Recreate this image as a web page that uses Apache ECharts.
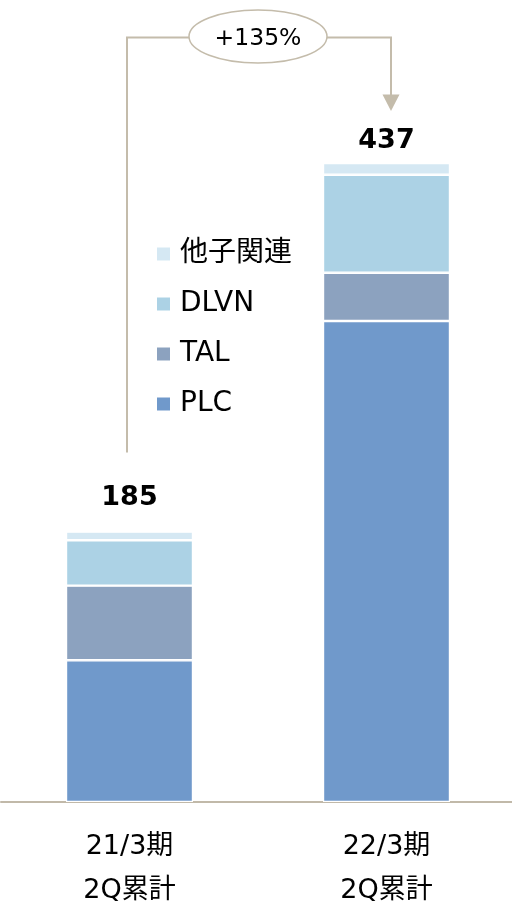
<!DOCTYPE html>
<html>
<head>
<meta charset="utf-8">
<script src="https://cdn.jsdelivr.net/npm/echarts@6/dist/echarts.min.js"></script>
<style>
html,body{margin:0;padding:0;background:#fff;overflow:hidden;}
#c{width:512px;height:904px;}
</style>
</head>
<body>
<div id="c"></div>
<script>
const categories = ['21/3期\n2Q累計', '22/3期\n2Q累計'];
const plc = [97, 329];
const tal = [51, 33];
const dlvn = [31, 67];
const others = [6, 8];
const totals = [185, 437];
const growthLabel = '+135%';
const legendOrder = ['他子関連', 'DLVN', 'TAL', 'PLC'];

const FONT = '"DejaVu Sans", "Noto Sans CJK JP", sans-serif';
const LINE = '#c4bcab';
const totalLabelGap = [20, 8.5];

const chart = echarts.init(document.getElementById('c'), null, {renderer: 'canvas', width: 512, height: 904});

function seg(name, data, color, extra) {
  return Object.assign({
    name: name,
    type: 'bar',
    stack: 'total',
    barWidth: 127,
    data: data,
    itemStyle: {color: color, borderColor: '#fff', borderWidth: 1.2},
    emphasis: {disabled: true},
    animation: false
  }, extra || {});
}

chart.setOption({
  animation: false,
  grid: {left: 1, right: -3, top: 71, bottom: 102, containLabel: false, outerBoundsMode: 'none'},
  legend: {
    orient: 'vertical',
    left: 157,
    top: 240,
    padding: 0,
    itemGap: 22,
    itemWidth: 13,
    itemHeight: 13,
    icon: 'rect',
    selectedMode: false,
    data: legendOrder,
    itemStyle: {borderWidth: 0},
    textStyle: {fontFamily: FONT, fontSize: 28, color: '#000', padding: [0, 0, 0, 5]}
  },
  xAxis: {
    type: 'category',
    data: categories,
    axisLine: {show: true, lineStyle: {color: '#c1b9a9', width: 2}},
    axisTick: {show: false},
    axisLabel: {fontFamily: FONT, fontSize: 27, lineHeight: 44, color: '#000', margin: 23}
  },
  yAxis: {
    type: 'value',
    min: 0,
    max: 500,
    show: false,
    splitLine: {show: false}
  },
  series: [
    seg('PLC', plc, '#7099cb'),
    seg('TAL', tal, '#8ca2bf'),
    seg('DLVN', dlvn, '#acd2e5'),
    seg('他子関連', others.map(function (v, i) {
      return {value: v, label: {distance: totalLabelGap[i]}};
    }), '#d5e8f3', {
      label: {
        show: true,
        position: 'top',
        fontFamily: FONT,
        fontSize: 27,
        fontWeight: 'bold',
        color: '#000',
        formatter: function (p) { return String(totals[p.dataIndex]); }
      }
    })
  ]
});

// Growth annotation connector, positioned from the chart's own scales
const p1 = chart.convertToPixel({gridIndex: 0}, [0, totals[0]]);
const p2 = chart.convertToPixel({gridIndex: 0}, [1, totals[1]]);
const lx = p1[0] - 2.5;
const rx = p2[0] + 4.5;
const hy = 37.5;
const leftBottom = p1[1] - 79;
const tipY = p2[1] - 52;
const cx = (p1[0] + p2[0]) / 2;
const erx = 69, ery = 26.5;

chart.setOption({
  graphic: [
    {type: 'polyline', silent: true, shape: {points: [[lx, leftBottom], [lx, hy], [cx - erx, hy]]},
     style: {stroke: LINE, lineWidth: 2, fill: null}},
    {type: 'polyline', silent: true, shape: {points: [[cx + erx, hy], [rx, hy], [rx, tipY - 16]]},
     style: {stroke: LINE, lineWidth: 2, fill: null}},
    {type: 'polygon', silent: true, shape: {points: [[rx - 8.5, tipY - 16.5], [rx + 8.5, tipY - 16.5], [rx, tipY]]},
     style: {fill: LINE}},
    {type: 'ellipse', silent: true, shape: {cx: cx, cy: 36.5, rx: erx, ry: ery},
     style: {fill: '#fff', stroke: LINE, lineWidth: 1.5}},
    {type: 'text', silent: true, x: cx, y: 38.5,
     style: {text: growthLabel, fontFamily: FONT, fontSize: 23.5, fill: '#000', align: 'center', verticalAlign: 'middle'}}
  ]
});
</script>
</body>
</html>
